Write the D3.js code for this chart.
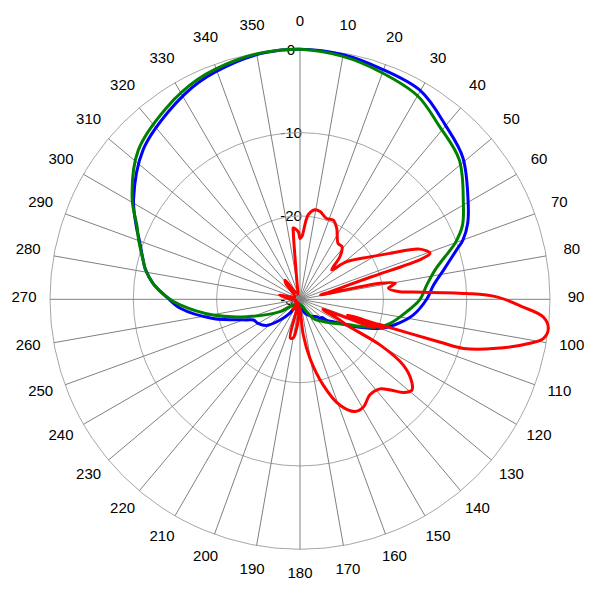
<!DOCTYPE html>
<html><head><meta charset="utf-8">
<script src="https://cdn.jsdelivr.net/npm/d3@7/dist/d3.min.js"></script>
<style>body{margin:0;background:#fff}svg{display:block}</style>
</head><body><svg id="c" width="600" height="600"></svg>
<script>
const angleTickLabels = [0,10,20,30,40,50,60,70,80,90,100,110,120,130,140,150,160,170,180,190,200,210,220,230,240,250,260,270,280,290,300,310,320,330,340,350];
const radialTickLabels = [-30, -20, -10, 0];

const blueAngles = [0,10,19,30,40,49,60,65.6,70,72.5,78.4,84,90,98,105,110,112.5,118.8,124,128,130,133,136,145,160,175,190,205,214,216,224,232,240,246,249,257.6,265.7,271,276,281,284,290,294,301,313.6,325,335,345,352];
const blueValues = [0,-0.2,-0.66,-1.1,-2.8,-4.1,-6.7,-7.9,-9.2,-10.3,-12.4,-13.9,-14.8,-16.3,-18.2,-19.8,-20.9,-23.6,-25.2,-25.9,-26.6,-26.4,-27.1,-27.5,-28.2,-29.2,-29.3,-29,-28.5,-27.9,-26.5,-24.9,-24.2,-23.9,-23.1,-19.3,-15.6,-14,-12.3,-11.1,-10.6,-9.5,-8.5,-6.7,-4.0,-2.5,-1.26,-0.5,-0.1];

const greenAngles = [0,10,19.4,30,38.6,48.8,59.5,65.6,70.1,71.8,77.7,83.6,90,96.6,105,108.9,113.4,118.2,125.8,137.3,145,151.6,170,200,229.6,238.2,251.9,259.7,267.3,271,276,281,284,290,294,301,312.7,325,335,345,352];
const greenValues = [0,-0.4,-1.05,-1.8,-3.3,-4.6,-7.25,-8.6,-10.2,-11,-13.4,-14.7,-15.6,-17.1,-18.8,-19.85,-21.7,-23.6,-25.1,-26.5,-27.2,-28.3,-29.3,-29.4,-28.9,-27.2,-23.3,-19.4,-15.6,-14.0,-12.3,-11.1,-10.6,-9.4,-8.6,-6.5,-3.6,-2.0,-0.9,-0.3,-0.05];

const redAngles = [0,1.6,5.6,9.5,12.9,18.2,22.8,27.3,34.4,38.4,43.2,45.6,47.2,51.2,58.7,62.9,67.3,70.5,71.6,72.5,74,76,78,78.7,80.4,82.9,85.7,86.3,88,89.3,92,94.2,96.7,99.1,100.8,104,106.7,107,107.6,108.5,109.2,110,111,112,114,117,118.8,119.7,122.5,126.4,129.1,132,135,138.3,143.8,149.5,153.9,159.3,164.8,170.4,174.7,178,182,186,190,194,197,205,215,222,240,260,275,282,290,310,318,322,326,340,348,351,354.3,354.6,358.6];
const redValues = [-22.7,-22.5,-19.8,-19.1,-19.2,-19.8,-19.7,-20.4,-21.9,-21.9,-23,-24.4,-24.8,-22.8,-20.2,-17.9,-14.4,-13.45,-14.6,-21,-24.5,-26.3,-27.5,-20.2,-18.4,-19.3,-18,-16.4,-10,-6.4,-3.2,-0.7,0,-0.4,-1.9,-5.7,-9.5,-12.5,-20,-24,-19.4,-23,-20.5,-25,-27,-25,-23.6,-18.9,-15.3,-13.35,-12.7,-13.3,-14.6,-15.6,-15.8,-15.0,-15.0,-16.4,-19.3,-22.8,-25.7,-28.5,-29,-26.8,-25.3,-25.2,-28.3,-29.5,-28.5,-29.5,-29.4,-29.5,-28.5,-27.5,-29.3,-29,-27.5,-27.1,-28.8,-29.3,-28.5,-27.4,-21.85,-21.4,-21.9];

const cx = 300, cy = 299.3, R = 250;
const svg = d3.select('#c');
const g = svg.append('g').attr('transform', `translate(${cx},${cy})`);
const r = d3.scaleLinear().domain([-30, 0]).range([0, R]).clamp(true);
const rad = d => d * Math.PI / 180;
const font = '"Liberation Sans", Arial, sans-serif';

// radial labels (beneath grid)
g.selectAll('text.rl').data(radialTickLabels).enter().append('text')
  .attr('x', -9).attr('y', d => -r(d) + 5.5)
  .attr('text-anchor', 'middle').attr('font-family', font).attr('font-size', 15)
  .attr('fill', '#000').text(d => d);

// circles
g.selectAll('circle.grid').data(radialTickLabels.filter(d => d > -30)).enter().append('circle')
  .attr('r', d => r(d)).attr('fill', 'none').attr('stroke', '#a6a6a6').attr('stroke-width', 1);

// spokes
g.selectAll('line.spoke').data(angleTickLabels).enter().append('line')
  .attr('x1', 0).attr('y1', 0)
  .attr('x2', d => R * Math.sin(rad(d))).attr('y2', d => -R * Math.cos(rad(d)))
  .attr('stroke', '#808080').attr('stroke-width', 1);

// angle labels
g.selectAll('text.al').data(angleTickLabels).enter().append('text')
  .attr('x', d => 276 * Math.sin(rad(d)))
  .attr('y', d => -276 * Math.cos(rad(d)) + 2.5)
  .attr('text-anchor', 'middle').attr('font-family', font).attr('font-size', 15)
  .attr('fill', '#000').text(d => d);

function series(angles, values) { return angles.map((a, i) => [a, values[i]]); }
const smooth = d3.lineRadial().angle(d => rad(d[0])).radius(d => r(d[1])).curve(d3.curveCatmullRomClosed.alpha(0.5));

g.append('path').datum(series(blueAngles, blueValues)).attr('d', smooth)
  .attr('fill', 'none').attr('stroke', '#0000ff').attr('stroke-width', 3).attr('stroke-linejoin', 'round');
g.append('path').datum(series(greenAngles, greenValues)).attr('d', smooth)
  .attr('fill', 'none').attr('stroke', '#008000').attr('stroke-width', 3).attr('stroke-linejoin', 'round');
g.append('path').datum(series(redAngles, redValues)).attr('d', smooth)
  .attr('fill', 'none').attr('stroke', '#ff0000').attr('stroke-width', 3).attr('stroke-linejoin', 'round');
</script></body></html>
